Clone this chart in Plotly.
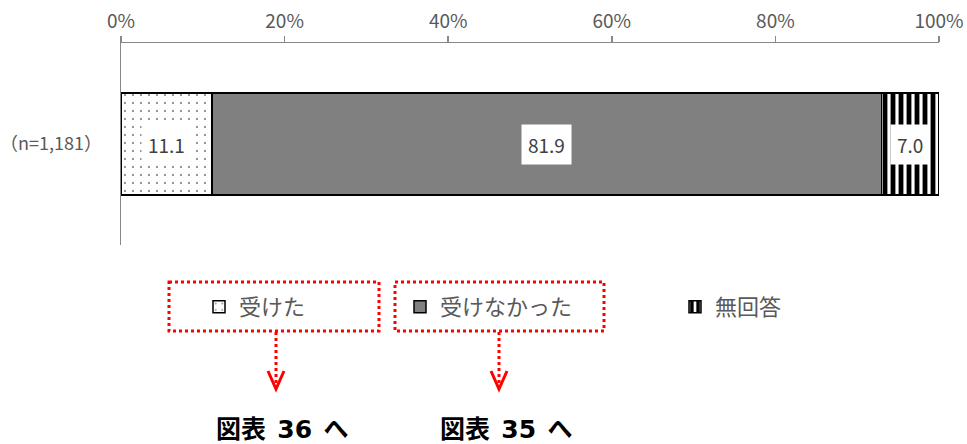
import plotly.graph_objects as go

# ---- data ----
categories = ["（n=1,181）"]
series_names = ["受けた", "受けなかった", "無回答"]
values_received = [11.1]
values_not_received = [81.9]
values_no_answer = [7.0]
tick_vals = [0, 20, 40, 60, 80, 100]
tick_labels = ["0%", "20%", "40%", "60%", "80%", "100%"]
ref_labels = [("図表", "36", "へ"), ("図表", "35", "へ")]

series_values = [values_received, values_not_received, values_no_answer]

FONT = "Noto Sans CJK JP"
GRAY_TXT = "#595959"
W, H = 967, 444
L, R, T, B = 121, 28, 43, 199
PW, PH = W - L - R, H - T - B


def px_x(px):
    return (px - L) / PW


def px_y(py):
    return (H - B - py) / PH


patterns = [
    dict(shape=".", fgcolor="black", bgcolor="white", size=8, solidity=0.06),
    None,
    dict(shape="|", fgcolor="black", bgcolor="white", size=8, solidity=0.6, fgopacity=1),
]
colors = ["white", "#808080", "white"]

fig = go.Figure()
legend_ids = ["legend", "legend2", "legend3"]
for name, vals, pat, col, lg in zip(series_names, series_values, patterns, colors, legend_ids):
    marker = dict(color=col, line=dict(color="black", width=1.5))
    if pat is not None:
        marker["pattern"] = pat
    fig.add_trace(go.Bar(
        y=categories, x=vals, name=name, orientation="h",
        marker=marker, width=0.505, legend=lg, hoverinfo="skip",
    ))

# data labels with white background
annotations = []
for ci, cat in enumerate(categories):
    start = 0.0
    for vals in series_values:
        v = vals[ci]
        annotations.append(dict(
            x=start + v / 2, y=cat, xref="x", yref="y", text=f"{v:.1f}",
            showarrow=False, bgcolor="white", borderpad=6,
            font=dict(family=FONT, size=19, color="#404040"),
        ))
        start += v

# reference texts under the arrows
for (a, num, b), cx in zip(ref_labels, [282, 506]):
    txt = (f"<b>{a}\u00a0\u00a0<span style='font-family:DejaVu Sans'>{num}</span>"
           f"\u00a0\u00a0{b}</b>")
    annotations.append(dict(
        x=px_x(cx), y=px_y(427), xref="paper", yref="paper", text=txt,
        showarrow=False, xanchor="center", yanchor="middle",
        font=dict(family=FONT, size=25, color="black"),
    ))

shapes = []
red = "#FF0000"
for x0, x1, ax in [(169, 379, 276), (395, 604, 499)]:
    shapes.append(dict(type="rect", xref="paper", yref="paper",
                       x0=px_x(x0), x1=px_x(x1), y0=px_y(282), y1=px_y(331),
                       line=dict(color=red, width=3, dash="dot")))
    shapes.append(dict(type="line", xref="paper", yref="paper",
                       x0=px_x(ax), x1=px_x(ax), y0=px_y(332), y1=px_y(384),
                       line=dict(color=red, width=3, dash="dot")))
    shapes.append(dict(type="path", xref="paper", yref="paper",
                       path=f"M {px_x(ax-8)} {px_y(371)} L {px_x(ax)} {px_y(389)} L {px_x(ax+8)} {px_y(371)}",
                       line=dict(color=red, width=3)))

legend_common = dict(
    orientation="h", xref="container", yref="container", xanchor="left", yanchor="middle",
    font=dict(family=FONT, size=22, color=GRAY_TXT), bgcolor="rgba(0,0,0,0)",
)
fig.update_layout(
    width=W, height=H,
    margin=dict(l=L, r=R, t=T, b=B, autoexpand=False),
    plot_bgcolor="white", paper_bgcolor="white",
    barmode="stack",
    showlegend=True,
    legend=dict(x=199 / W, y=1 - 307 / H, **legend_common),
    legend2=dict(x=400 / W, y=1 - 307 / H, **legend_common),
    legend3=dict(x=675 / W, y=1 - 307 / H, **legend_common),
    annotations=annotations,
    shapes=shapes,
    xaxis=dict(
        side="top", range=[0, 100], tickvals=tick_vals, ticktext=tick_labels,
        showgrid=False, zeroline=False, showline=True, linecolor="#888888", linewidth=1.5,
        ticks="outside", ticklen=6, tickwidth=1.5, tickcolor="#888888",
        tickfont=dict(family=FONT, size=19, color=GRAY_TXT),
        automargin=False, fixedrange=True,
    ),
    yaxis=dict(
        range=[-0.5, 0.5], showgrid=False, zeroline=False, showline=True,
        linecolor="#888888", linewidth=1.5, ticks="", ticklabelstandoff=14,
        tickfont=dict(family=FONT, size=18, color=GRAY_TXT),
        automargin=False, fixedrange=True,
    ),
)

fig.write_html(
    "out.html",
    config={"displayModeBar": False, "staticPlot": True},
    post_script="document.body.style.margin='0';document.body.style.padding='0';",
)
